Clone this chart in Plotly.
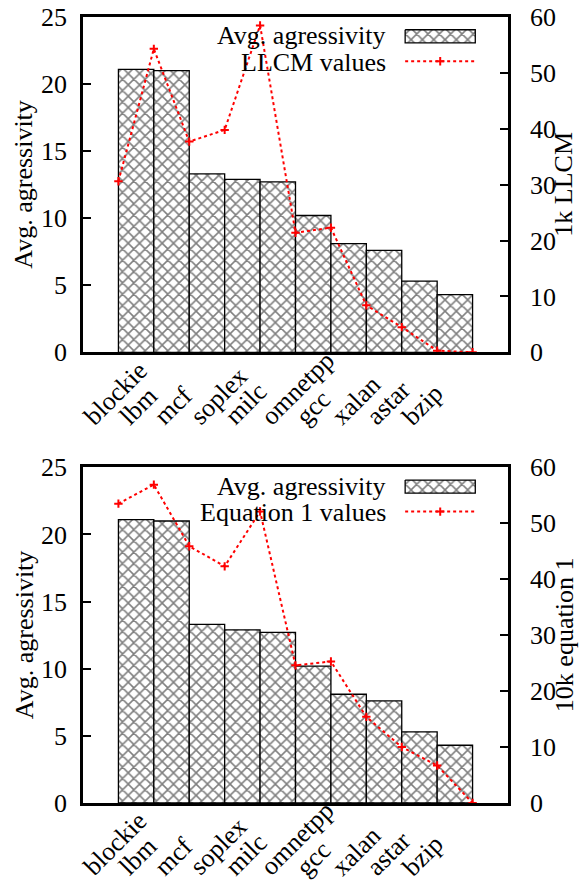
import numpy as np
import plotly.graph_objects as go

# Benchmarks and their average aggressivity (left axis, bars)
benchmarks = ["blockie", "lbm", "mcf", "soplex", "milc", "omnetpp", "gcc", "xalan", "astar", "bzip"]
avg_aggressivity = [21.1, 21.0, 13.3, 12.9, 12.7, 10.2, 8.1, 7.6, 5.3, 4.3]

# Right-axis series, one value at each bar boundary
llcm_values = [30.6, 54.3, 37.7, 39.8, 58.5, 21.4, 22.3, 8.4, 4.5, 0.3, 0.0]
equation1_values = [53.5, 56.9, 45.9, 42.3, 52.1, 24.6, 25.3, 15.4, 10.0, 6.7, 0.0]

left_ticks = [0, 5, 10, 15, 20, 25]
right_ticks = [0, 10, 20, 30, 40, 50, 60]

FONT = "Liberation Serif, Times New Roman, serif"
FS = 26
RED = "#ff0000"

W, H = 579, 884
ML, MR, MT, MB = 83, 71, 17, 81
top_dom = [0.5734, 1.0]
bot_dom = [0.0, 0.4271]

pattern = dict(shape="x", size=8, solidity=0.35, fgcolor="black", bgcolor="white")
marker_style = dict(symbol="cross-thin", size=6, line=dict(color=RED, width=2), color=RED)

fig = go.Figure()

bar_x = np.arange(len(benchmarks))


def add_panel(xa, ya, ya2, line_vals, line_name, right_title, dom, lx, ly):
    fig.add_trace(go.Bar(
        x=bar_x, y=avg_aggressivity, width=1.0, xaxis=xa, yaxis=ya,
        marker=dict(color="white", line=dict(color="black", width=1.3), pattern=pattern),
        showlegend=False, name="Avg. agressivity",
    ))
    line_x = np.arange(len(line_vals)) - 0.5
    fig.add_trace(go.Scatter(
        x=line_x, y=line_vals, xaxis=xa, yaxis=ya2, mode="lines+markers",
        line=dict(color=RED, width=2, dash="dot"), marker=marker_style,
        showlegend=False, name=line_name,
    ))
    # key: text on the left, sample on the right
    fig.add_trace(go.Scatter(
        x=[0.758, 0.923, 0.923, 0.758, 0.758], y=[0.962, 0.962, 0.923, 0.923, 0.962],
        xaxis=lx, yaxis=ly, mode="lines", fill="toself", fillcolor="white",
        fillpattern=pattern, line=dict(color="black", width=1.3),
        showlegend=False, hoverinfo="skip",
    ))
    fig.add_trace(go.Scatter(
        x=[0.758, 0.923], y=[0.868, 0.868], xaxis=lx, yaxis=ly, mode="lines",
        line=dict(color=RED, width=2, dash="dot"), showlegend=False, hoverinfo="skip",
    ))
    fig.add_trace(go.Scatter(
        x=[0.8405], y=[0.868], xaxis=lx, yaxis=ly, mode="markers", marker=marker_style,
        showlegend=False, hoverinfo="skip",
    ))
    dh = dom[1] - dom[0]
    for txt, fy in [("Avg. agressivity", 0.944), (line_name, 0.864)]:
        fig.add_annotation(
            xref="paper", yref="paper", x=0.718, y=dom[0] + dh * fy,
            text=txt, showarrow=False, xanchor="right", yanchor="middle",
            font=dict(family=FONT, size=FS, color="black"),
        )
    # benchmark names, rotated 45 degrees, starting below each bar
    for i, name in enumerate(benchmarks):
        fig.add_annotation(
            xref=xa, yref="paper", x=bar_x[i], y=dom[0], xshift=-61, yshift=-81,
            text=name, textangle=-45, showarrow=False,
            xanchor="left", yanchor="bottom",
            font=dict(family=FONT, size=FS, color="black"),
        )
    pw = W - ML - MR
    fig.add_annotation(
        xref="paper", yref="paper", x=(24 - ML) / pw, y=dom[0] + dh / 2,
        text="Avg. agressivity", textangle=-90, showarrow=False,
        xanchor="center", yanchor="middle",
        font=dict(family=FONT, size=FS, color="black"),
    )
    fig.add_annotation(
        xref="paper", yref="paper", x=(564 - ML) / pw, y=dom[0] + dh / 2,
        text=right_title, textangle=-90, showarrow=False,
        xanchor="center", yanchor="middle",
        font=dict(family=FONT, size=FS, color="black"),
    )


add_panel("x", "y", "y2", llcm_values, "LLCM values", "1k LLCM", top_dom, "x3", "y5")
add_panel("x2", "y3", "y4", equation1_values, "Equation 1 values", "10k equation 1", bot_dom, "x4", "y6")

xcommon = dict(
    range=[-1.5, 10.5], tickvals=list(bar_x), showticklabels=False, automargin=False,
    showline=True, mirror=True, linecolor="black", linewidth=2.5, ticks="",
    showgrid=False, zeroline=False,
)
ycommon = dict(
    range=[0, 25], tickvals=left_ticks, ticks="inside", ticklen=8, tickwidth=1.5,
    tickcolor="black", showline=True, linecolor="black", linewidth=2.5,
    showgrid=False, zeroline=False, ticklabelstandoff=8, automargin=False,
    tickfont=dict(family=FONT, size=FS, color="black"),
)
y2common = dict(
    range=[0, 60], tickvals=right_ticks, ticks="inside", ticklen=8, tickwidth=1.5,
    tickcolor="black", showline=True, linecolor="black", linewidth=2.5, side="right",
    showgrid=False, zeroline=False, ticklabelstandoff=14, automargin=False,
    tickfont=dict(family=FONT, size=FS, color="black"),
)
hidden = dict(range=[0, 1], visible=False, fixedrange=True, automargin=False)

fig.update_layout(
    width=W, height=H, margin=dict(l=ML, r=MR, t=MT, b=MB),
    paper_bgcolor="white", plot_bgcolor="rgba(0,0,0,0)", barmode="overlay",
    xaxis=dict(**xcommon, domain=[0, 1], anchor="y"),
    yaxis=dict(**ycommon, domain=top_dom, anchor="x"),
    yaxis2=dict(**y2common, overlaying="y", anchor="x"),
    xaxis2=dict(**xcommon, domain=[0, 1], anchor="y3"),
    yaxis3=dict(**ycommon, domain=bot_dom, anchor="x2"),
    yaxis4=dict(**y2common, overlaying="y3", anchor="x2"),
    xaxis3=dict(**hidden, domain=[0, 1], anchor="y5"),
    yaxis5=dict(**hidden, domain=top_dom, anchor="x3"),
    xaxis4=dict(**hidden, domain=[0, 1], anchor="y6"),
    yaxis6=dict(**hidden, domain=bot_dom, anchor="x4"),
    showlegend=False,
)

fig.write_html("out.html")
